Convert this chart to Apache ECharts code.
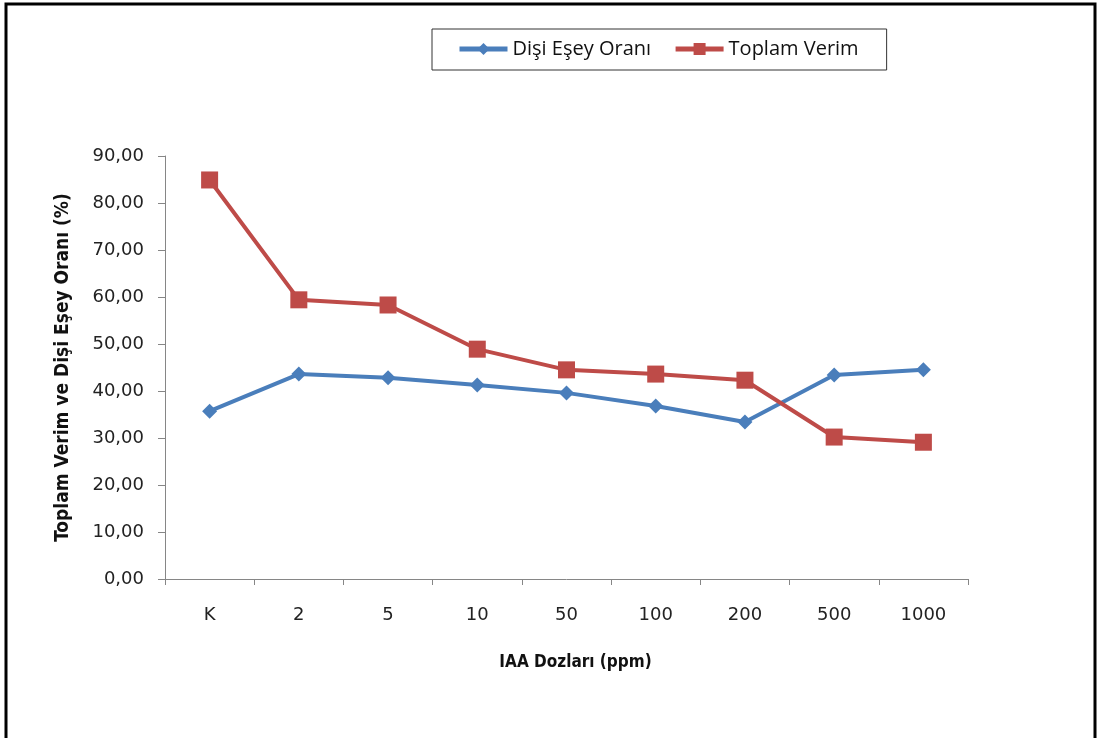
<!DOCTYPE html>
<html>
<head>
<meta charset="utf-8">
<script src="https://cdn.jsdelivr.net/npm/echarts@6/dist/echarts.min.js"></script>
<style>
  html, body { margin: 0; padding: 0; background: #fff; }
  #chart { width: 1101px; height: 738px; }
</style>
</head>
<body>
<div id="chart"></div>
<script>
var categories = ['K', '2', '5', '10', '50', '100', '200', '500', '1000'];
var disiEseyOrani = [35.7, 43.6, 42.8, 41.3, 39.6, 36.8, 33.4, 43.4, 44.5];
var toplamVerim = [84.9, 59.4, 58.3, 48.9, 44.5, 43.6, 42.3, 30.2, 29.1];

var chart = echarts.init(document.getElementById('chart'));
var font = '"DejaVu Sans", sans-serif';
var titleFont = '"DejaVu Sans Condensed", "DejaVu Sans", sans-serif';
var legendFont = '"Open Sans", "DejaVu Sans", sans-serif';

var option = {
    animation: false,
    textStyle: { fontFamily: font },
    graphic: [{
        type: 'rect',
        shape: { x: 6, y: 4, width: 1089, height: 740 },
        style: { fill: 'none', stroke: '#000', lineWidth: 3 }
    }],
    legend: {
        data: ['Dişi Eşey Oranı', 'Toplam Verim'],
        left: 432,
        top: 29,
        padding: [10, 28, 11, 25],
        itemGap: 22,
        itemWidth: 48,
        itemHeight: 15,
        lineStyle: { width: 5 },
        borderColor: '#333',
        borderWidth: 1,
        borderRadius: 0,
        textStyle: { fontSize: 20, color: '#111', fontFamily: legendFont }
    },
    grid: { left: 165, right: 133, top: 156, bottom: 159, containLabel: false },
    xAxis: {
        type: 'category',
        data: categories,
        boundaryGap: true,
        name: 'IAA Dozları (ppm)',
        nameLocation: 'middle',
        nameGap: 75,
        nameTextStyle: { fontSize: 17, fontWeight: 'bold', color: '#111', fontFamily: titleFont, padding: [0, 0, 0, 18] },
        axisLine: { lineStyle: { color: '#868686', width: 1 } },
        axisTick: { show: true, inside: false, length: 6, lineStyle: { color: '#868686' } },
        axisLabel: { fontSize: 18, color: '#222', margin: 27, fontFamily: font },
        splitLine: { show: false }
    },
    yAxis: {
        type: 'value',
        min: 0,
        max: 90,
        interval: 10,
        name: 'Toplam Verim ve Dişi Eşey Oranı (%)',
        nameLocation: 'middle',
        nameGap: 92,
        nameRotate: 90,
        nameTextStyle: { fontSize: 19, fontWeight: 'bold', color: '#111', fontFamily: titleFont },
        axisLine: { show: true, lineStyle: { color: '#868686', width: 1 } },
        axisTick: { show: true, inside: false, length: 7, lineStyle: { color: '#868686' } },
        axisLabel: {
            fontSize: 18, color: '#222', margin: 21, fontFamily: font,
            formatter: function (v) { return v.toFixed(2).replace('.', ','); }
        },
        splitLine: { show: false }
    },
    series: [{
        name: 'Dişi Eşey Oranı',
        type: 'line',
        data: disiEseyOrani,
        symbol: 'diamond',
        symbolSize: 15,
        color: '#4A7EBB',
        lineStyle: { width: 4, color: '#4A7EBB' },
        itemStyle: { color: '#4A7EBB' }
    }, {
        name: 'Toplam Verim',
        type: 'line',
        data: toplamVerim,
        symbol: 'rect',
        symbolSize: 17,
        color: '#BE4B48',
        lineStyle: { width: 4, color: '#BE4B48' },
        itemStyle: { color: '#BE4B48' }
    }]
};
chart.setOption(option);
</script>
</body>
</html>
